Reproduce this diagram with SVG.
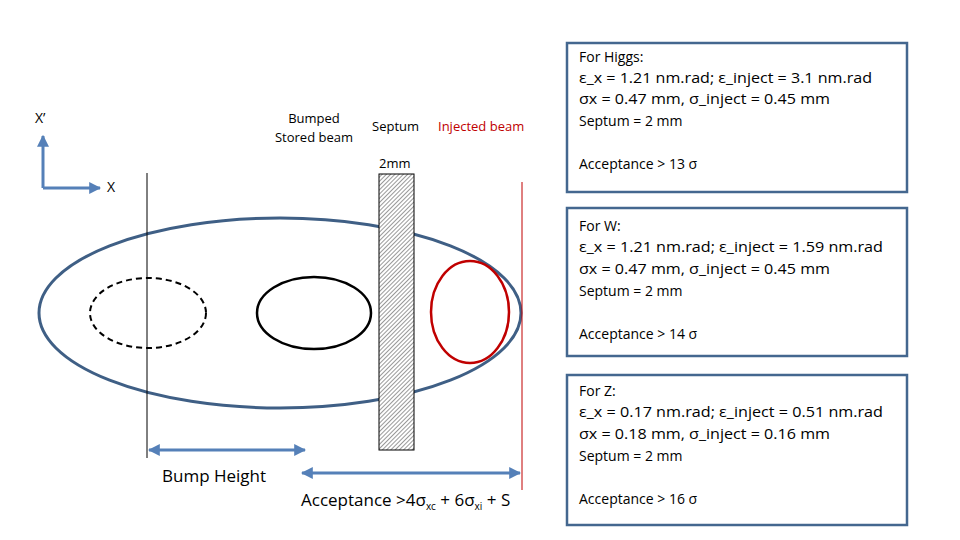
<svg xmlns="http://www.w3.org/2000/svg" width="960" height="540" viewBox="0 0 960 540">
<style>
text{font-family:"Open Sans","Liberation Sans",sans-serif;font-size:14px;fill:#000}
.s{font-size:13px}
.box{fill:#fff;stroke:#44678f;stroke-width:2.5}
.arr{stroke:#5580b8;stroke-width:3;fill:none}
</style>
<defs>
<pattern id="h" width="3" height="3" patternUnits="userSpaceOnUse" patternTransform="rotate(45)">
<rect width="3" height="3" fill="#fff"/><line x1="0" y1="0" x2="0" y2="3" stroke="#000" stroke-width="0.8"/>
</pattern>
<marker id="a" viewBox="0 0 10 10" refX="9" refY="5" markerWidth="4" markerHeight="4" orient="auto-start-reverse"><path d="M0,0L10,5L0,10z" fill="#5580b8"/></marker>
</defs>
<rect width="960" height="540" fill="#fff"/>
<g id="axes">
<path class="arr" d="M43,188V136" marker-end="url(#a)"/>
<path class="arr" d="M43,188H100" marker-end="url(#a)"/>
<text x="35" y="123">X’</text>
<text x="107" y="192">X</text>
</g>
<g id="labels">
<text class="s" x="314" y="123" text-anchor="middle">Bumped</text>
<text class="s" x="314" y="142" text-anchor="middle">Stored beam</text>
<text class="s" x="372" y="131">Septum</text>
<text class="s" x="438" y="131" style="fill:#c00000">Injected beam</text>
<text class="s" x="379" y="168">2mm</text>
</g>
<g id="phase-space">
<ellipse cx="280" cy="313" rx="241" ry="95" fill="none" stroke="#3f5f85" stroke-width="3"/>
<rect x="379" y="174" width="35" height="276" fill="url(#h)" stroke="#000" stroke-width="1"/>
<ellipse cx="148" cy="313" rx="58" ry="35" fill="none" stroke="#000" stroke-width="2" stroke-dasharray="6,4"/>
<ellipse cx="314" cy="313" rx="57" ry="36" fill="none" stroke="#000" stroke-width="2.5"/>
<ellipse cx="470" cy="312" rx="39" ry="51" fill="none" stroke="#c00000" stroke-width="2.5"/>
<line x1="522" y1="182" x2="522" y2="490" stroke="#c00000" stroke-width="1"/>
<line x1="147" y1="173" x2="147" y2="458" stroke="#000" stroke-width="1"/>
</g>
<g id="connectors">
<path class="arr" d="M149,450H305" marker-start="url(#a)" marker-end="url(#a)"/>
<path class="arr" d="M302,473H520" marker-start="url(#a)" marker-end="url(#a)"/>
</g>
<g id="dim-labels">
<text x="162" y="482" style="font-size:17px">Bump Height</text>
<text x="301" y="506" style="font-size:17px">Acceptance &gt;4σ<tspan style="font-size:10px" dy="4">xc</tspan><tspan dy="-4"> + 6σ</tspan><tspan style="font-size:10px" dy="4">xi</tspan><tspan dy="-4"> + S</tspan></text>
</g>
<g id="higgs">
<rect class="box" x="567" y="43" width="340" height="149"/>
<text x="579" y="62">For Higgs:</text>
<text x="579" y="83" textLength="293" lengthAdjust="spacingAndGlyphs">ε_x = 1.21 nm.rad; ε_inject = 3.1 nm.rad</text>
<text x="579" y="104" textLength="251" lengthAdjust="spacingAndGlyphs">σx = 0.47 mm, σ_inject = 0.45 mm</text>
<text x="579" y="126">Septum = 2 mm</text>
<text x="579" y="169">Acceptance &gt; 13 σ</text>
</g>
<g id="w">
<rect class="box" x="567" y="208" width="340" height="148"/>
<text x="579" y="231">For W:</text>
<text x="579" y="252" textLength="304" lengthAdjust="spacingAndGlyphs">ε_x = 1.21 nm.rad; ε_inject = 1.59 nm.rad</text>
<text x="579" y="274" textLength="251" lengthAdjust="spacingAndGlyphs">σx = 0.47 mm, σ_inject = 0.45 mm</text>
<text x="579" y="296">Septum = 2 mm</text>
<text x="579" y="339">Acceptance &gt; 14 σ</text>
</g>
<g id="z">
<rect class="box" x="567" y="375" width="340" height="150"/>
<text x="579" y="396">For Z:</text>
<text x="579" y="417" textLength="304" lengthAdjust="spacingAndGlyphs">ε_x = 0.17 nm.rad; ε_inject = 0.51 nm.rad</text>
<text x="579" y="439" textLength="251" lengthAdjust="spacingAndGlyphs">σx = 0.18 mm, σ_inject = 0.16 mm</text>
<text x="579" y="461">Septum = 2 mm</text>
<text x="579" y="504">Acceptance &gt; 16 σ</text>
</g>
</svg>
